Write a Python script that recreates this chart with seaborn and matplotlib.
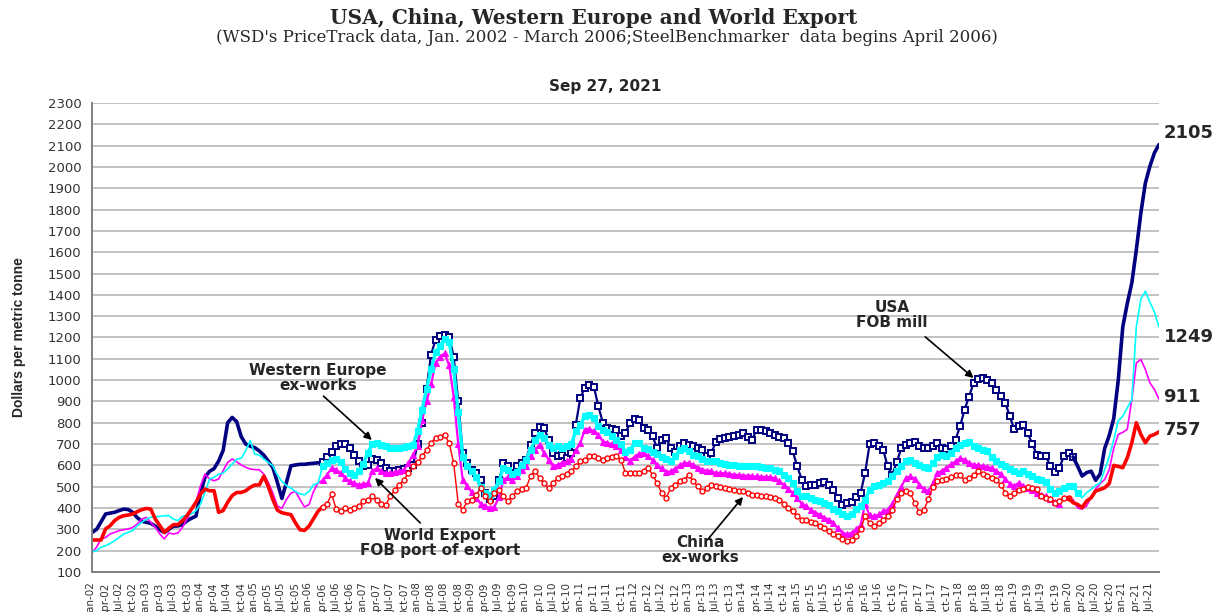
import numpy as np
import pandas as pd
import matplotlib
matplotlib.use('Agg')
import matplotlib.pyplot as plt
import seaborn as sns

nan = np.nan

# monthly prices, Jan-02 .. Sep-21 (US$ per metric tonne)
usa = [
    285, 300, 335, 372, 376, 380, 388, 395, 393, 380, 355, 338,  # 2002
    333, 328, 315, 298, 285, 300, 315, 316, 322, 340, 352, 362,  # 2003
    470, 546, 572, 585, 620, 670, 800, 825, 805, 735, 700, 690,  # 2004
    683, 668, 648, 620, 590, 520, 445, 520, 598, 602, 605, 605,  # 2005
    608, 610, 612, 615, 640, 665, 690, 700, 698, 680, 650, 620,  # 2006
    595, 600, 630, 625, 610, 590, 575, 572, 578, 585, 590, 600,  # 2007
    700, 800, 960, 1120, 1190, 1205, 1210, 1200, 1110, 900, 660, 610,  # 2008
    580, 565, 533, 470, 440, 455, 530, 610, 595, 565, 595, 610,  # 2009
    625, 697, 750, 780, 775, 720, 658, 642, 650, 635, 660, 790,  # 2010
    915, 965, 975, 970, 877, 800, 775, 770, 765, 740, 752, 800,  # 2011
    817, 814, 775, 767, 736, 681, 720, 728, 681, 665, 690, 705,  # 2012
    697, 690, 680, 673, 642, 658, 712, 725, 728, 735, 740, 744,  # 2013
    752, 735, 720, 767, 767, 760, 752, 744, 735, 728, 705, 666,  # 2014
    595, 533, 502, 510, 510, 517, 520, 510, 486, 447, 416, 423,  # 2015
    430, 450, 470, 564, 700, 705, 690, 673, 595, 556, 614, 681,  # 2016
    697, 705, 712, 690, 681, 681, 690, 705, 681, 677, 690, 720,  # 2017
    783, 861, 923, 986, 1005, 1008, 1000, 987, 955, 925, 894, 831,  # 2018
    769, 784, 790, 750, 700, 650, 645, 644, 595, 570, 590, 645,  # 2019
    659, 640, 597, 550, 566, 573, 530, 560, 680, 740, 820, 1000,  # 2020
    1250, 1360, 1456, 1612, 1784, 1925, 2003, 2066, 2105,  # 2021
]

weurope = [
    195, 200, 216, 223, 234, 247, 262, 278, 286, 294, 317, 333,  # 2002
    348, 356, 359, 361, 364, 364, 348, 341, 361, 367, 372, 388,  # 2003
    419, 473, 536, 544, 559, 564, 583, 606, 630, 633, 669, 716,  # 2004
    653, 648, 630, 614, 598, 555, 525, 505, 494, 478, 466, 462,  # 2005
    478, 509, 517, 595, 612, 625, 630, 615, 585, 565, 555, 575,  # 2006
    605, 660, 700, 705, 695, 690, 680, 680, 682, 685, 690, 697,  # 2007
    760, 860, 960, 1050, 1130, 1160, 1195, 1180, 1050, 850, 640, 595,  # 2008
    572, 545, 500, 470, 460, 486, 525, 590, 580, 560, 570, 600,  # 2009
    627, 673, 720, 744, 728, 697, 681, 689, 681, 689, 700, 760,  # 2010
    790, 830, 837, 822, 783, 767, 758, 740, 720, 700, 665, 670,  # 2011
    705, 705, 681, 675, 665, 652, 640, 628, 619, 642, 673, 681,  # 2012
    666, 650, 642, 630, 619, 619, 619, 611, 605, 603, 600, 598,  # 2013
    598, 598, 597, 595, 593, 590, 587, 580, 572, 556, 540, 517,  # 2014
    478, 455, 455, 447, 439, 431, 423, 412, 395, 384, 370, 361,  # 2015
    370, 395, 408, 439, 486, 502, 509, 517, 525, 550, 575, 595,  # 2016
    620, 627, 611, 600, 592, 587, 610, 640, 650, 645, 660, 681,  # 2017
    697, 705, 712, 689, 680, 673, 666, 640, 620, 605, 597, 585,  # 2018
    575, 566, 572, 560, 550, 538, 530, 520, 490, 470, 480, 495,  # 2019
    503, 503, 470, 448, 472, 487, 505, 519, 580, 640, 720, 810,  # 2020
    831, 870, 909, 1250, 1380, 1417, 1365, 1320, 1249,  # 2021
]

world = [
    190, 216, 255, 262, 278, 286, 294, 298, 302, 309, 325, 348,  # 2002
    356, 333, 309, 278, 255, 283, 278, 283, 309, 348, 388, 427,  # 2003
    505, 559, 536, 528, 536, 575, 614, 630, 617, 602, 591, 583,  # 2004
    580, 580, 559, 520, 470, 410, 398, 440, 470, 478, 440, 405,  # 2005
    416, 478, 517, 530, 556, 587, 580, 564, 541, 525, 517, 509,  # 2006
    512, 517, 572, 587, 572, 564, 564, 568, 572, 580, 611, 650,  # 2007
    689, 814, 900, 980, 1080, 1110, 1125, 1070, 923, 700, 533, 502,  # 2008
    475, 445, 420, 408, 400, 405, 450, 533, 545, 533, 548, 580,  # 2009
    595, 642, 673, 697, 658, 627, 595, 603, 611, 619, 630, 670,  # 2010
    705, 767, 772, 759, 744, 712, 705, 700, 690, 673, 640, 622,  # 2011
    640, 655, 658, 642, 625, 600, 587, 570, 572, 585, 600, 611,  # 2012
    611, 603, 590, 580, 575, 572, 564, 564, 562, 560, 556, 555,  # 2013
    552, 552, 550, 548, 547, 545, 544, 540, 525, 510, 490, 470,  # 2014
    445, 420, 408, 392, 378, 369, 355, 345, 330, 305, 285, 277,  # 2015
    283, 300, 320, 420, 365, 361, 370, 385, 392, 420, 460, 500,  # 2016
    540, 548, 538, 510, 490, 478, 517, 564, 575, 590, 605, 619,  # 2017
    634, 627, 611, 603, 600, 597, 592, 589, 575, 560, 534, 515,  # 2018
    503, 519, 503, 495, 485, 472, 462, 456, 440, 430, 417, nan,  # 2019
    nan, 440, 400, 395, 410, 450, 490, 515, 534, 580, 680, 745,  # 2020
    755, 769, 909, 1081, 1097, 1050, 987, 956, 911,  # 2021
]

china = [
    250, 250, 250, 302, 317, 341, 356, 364, 367, 372, 383, 392,  # 2002
    398, 395, 348, 317, 286, 305, 322, 322, 341, 364, 395, 427,  # 2003
    466, 489, 481, 481, 380, 388, 427, 458, 473, 473, 481, 497,  # 2004
    508, 508, 550, 500, 440, 390, 378, 373, 369, 330, 298, 295,  # 2005
    315, 350, 385, 405, 420, 465, 395, 384, 400, 392, 400, 408,  # 2006
    431, 439, 455, 439, 420, 416, 455, 486, 509, 533, 564, 595,  # 2007
    615, 642, 673, 705, 728, 735, 744, 705, 611, 420, 392, 431,  # 2008
    439, 462, 494, 455, 431, 470, 486, 455, 431, 455, 478, 490,  # 2009
    494, 548, 572, 541, 517, 494, 517, 541, 548, 560, 572, 595,  # 2010
    619, 627, 642, 642, 634, 627, 634, 640, 642, 627, 564, 562,  # 2011
    562, 564, 572, 587, 556, 517, 470, 447, 494, 509, 525, 533,  # 2012
    556, 525, 502, 478, 494, 509, 502, 498, 494, 490, 486, 482,  # 2013
    478, 470, 463, 463, 458, 455, 450, 447, 439, 420, 400, 384,  # 2014
    361, 345, 345, 335, 330, 318, 306, 290, 280, 267, 255, 246,  # 2015
    250, 270, 300, 361, 330, 314, 330, 345, 361, 390, 440, 470,  # 2016
    478, 470, 423, 380, 392, 440, 500, 525, 533, 537, 545, 556,  # 2017
    556, 530, 540, 556, 572, 560, 550, 542, 530, 510, 472, 456,  # 2018
    472, 485, 487, 500, 495, 487, 456, 448, 441, 425, 433, 448,  # 2019
    448, 425, 417, 402, 433, 448, 480, 487, 495, 515, 600, 595,  # 2020
    589, 636, 706, 800, 745, 706, 737, 745, 757,  # 2021
]

dates = pd.date_range('2002-01-01', periods=len(usa), freq='MS')
tick_labels = [d.strftime('%b-%y') for d in dates]
month = np.arange(len(usa))

# (values, colour, early/late style, mid-period marker style, mid start, mid end, late start)
series = [
    (usa, '#000080', dict(lw=2.6),
     dict(lw=1.6, marker='s', markersize=4.8, markerfacecolor='white',
          markeredgecolor='#000080', markeredgewidth=1.4), 51, 217, 217),
    (world, '#FF00FF', dict(lw=1.2),
     dict(lw=1.6, marker='^', markersize=4.2, markerfacecolor='#FF00FF',
          markeredgecolor='#FF00FF', markeredgewidth=0.8), 51, 214, 217),
    (weurope, '#00FFFF', dict(lw=1.2),
     dict(lw=2.4, marker='s', markersize=4.2, markerfacecolor='#00FFFF',
          markeredgecolor='#00FFFF', markeredgewidth=0.8), 51, 218, 218),
    (china, '#FF0000', dict(lw=2.6),
     dict(lw=1.0, marker='o', markersize=3.6, markerfacecolor='white',
          markeredgecolor='#FF0000', markeredgewidth=1.0), 51, 216, 216),
]

sns.set_style('white')
fig = plt.figure(figsize=(12.22, 6.12), dpi=100)
ax = fig.add_axes([0.0753, 0.0654, 0.8731, 0.7663])

for vals, col, line_kw, mark_kw, s0, s1, s2 in series:
    v = np.array(vals, dtype=float)
    sns.lineplot(x=month[:s0 + 1], y=v[:s0 + 1], ax=ax, color=col, **line_kw)
    sns.lineplot(x=month[s0:s1 + 1], y=v[s0:s1 + 1], ax=ax, color=col, **mark_kw)
    sns.lineplot(x=month[s2:], y=v[s2:], ax=ax, color=col, **line_kw)

ax.set_xlim(0, len(usa) - 1)
ax.set_ylim(100, 2300)
ax.set_yticks(range(100, 2301, 100))
ax.set_xticks(month[::3])
ax.set_xticklabels(tick_labels[::3], rotation=90, fontsize=7.5, color='#333333')
ax.tick_params(axis='y', labelsize=9.5, labelcolor='#333333')
ax.tick_params(axis='both', direction='out', length=4, width=1, color='#808080')
ax.yaxis.grid(True, color='#bdbdbd', lw=1.3)
ax.xaxis.grid(False)
ax.set_axisbelow(True)
for s in ['top', 'right']:
    ax.spines[s].set_visible(False)
for s in ['left', 'bottom']:
    ax.spines[s].set_color('#808080')
    ax.spines[s].set_linewidth(1.4)
ax.set_xlabel('')
ax.set_ylabel('')

fig.text(0.0155, 0.449, 'Dollars per metric tonne', rotation=90, ha='center', va='center',
         fontsize=10, fontweight='bold', family=['Liberation Sans', 'DejaVu Sans'])

fig.text(0.486, 1 - 18 / 612, 'USA, China, Western Europe and World Export', ha='center',
         va='center', fontsize=14.5, fontweight='bold', family=['DejaVu Serif'])
fig.text(0.497, 1 - 37 / 612,
         "(WSD's PriceTrack data, Jan. 2002 - March 2006;SteelBenchmarker  data begins April 2006)",
         ha='center', va='center', fontsize=12, family=['DejaVu Serif'])
fig.text(0.495, 1 - 87 / 612, 'Sep 27, 2021', ha='center', va='center', fontsize=11,
         fontweight='bold')

arrow = dict(arrowstyle='-|>', color='black', lw=1.2, mutation_scale=11, shrinkA=0, shrinkB=0)
txt = dict(ha='center', va='center', fontsize=11, fontweight='bold', linespacing=1.05)
ax.annotate('Western Europe\nex-works', xy=(50, 1010), **txt)
ax.annotate('', xy=(61.9, 719), xytext=(51.2, 925), arrowprops=arrow)
ax.annotate('World Export\nFOB port of export', xy=(77, 236), **txt)
ax.annotate('', xy=(62.6, 541), xytext=(72.6, 330), arrowprops=arrow)
ax.annotate('China\nex-works', xy=(134.5, 203), **txt)
ax.annotate('', xy=(144, 452), xytext=(136.3, 255), arrowprops=arrow)
ax.annotate('USA\nFOB mill', xy=(177, 1306), **txt)
ax.annotate('', xy=(195, 1010), xytext=(184.3, 1203), arrowprops=arrow)

for val, ypos in [(2105, 2160), (1249, 1203), (911, 921), (757, 766)]:
    ax.text(237, ypos, str(val), ha='left', va='center', fontsize=13, fontweight='bold',
            clip_on=False)

fig.savefig('out.png', dpi=100)
